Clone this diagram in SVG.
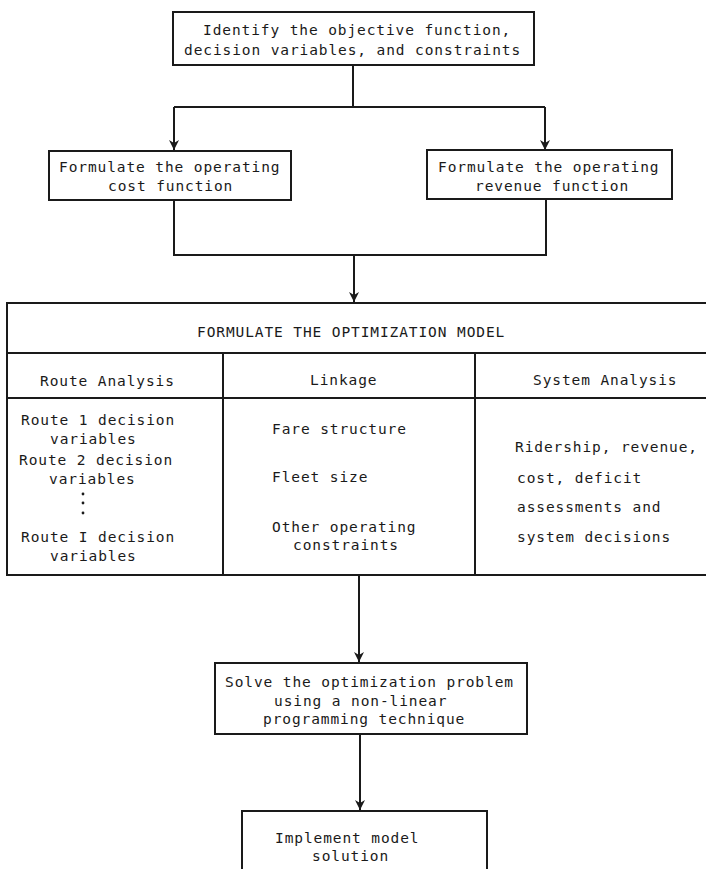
<svg xmlns="http://www.w3.org/2000/svg" width="706" height="869" viewBox="0 0 706 869">
<style>
.box{fill:#fff;stroke:#1a1a1a;stroke-width:2}
.ln{fill:none;stroke:#1a1a1a;stroke-width:2}
text{font-family:"DejaVu Sans Mono","Liberation Mono",monospace;font-size:14.5px;letter-spacing:0.9px;fill:#1a1a1a}
</style>
<defs>
<marker id="arr" markerUnits="userSpaceOnUse" markerWidth="10" markerHeight="10" refX="10" refY="5" orient="auto">
<path d="M0,0 L10,5 L0,10 L3,5 z" fill="#1a1a1a"/>
</marker>
</defs>
<rect width="706" height="869" fill="#fff"/>
<g id="connectors">
<path class="ln" d="M353,65 V107"/>
<path class="ln" d="M174,107 H545"/>
<path class="ln" d="M174,107 V150" marker-end="url(#arr)"/>
<path class="ln" d="M545,107 V150" marker-end="url(#arr)"/>
<path class="ln" d="M174,200 V255 H546 V199"/>
<path class="ln" d="M354,255 V302" marker-end="url(#arr)"/>
<path class="ln" d="M359,575 V662" marker-end="url(#arr)"/>
<path class="ln" d="M360,734 V810" marker-end="url(#arr)"/>
</g>
<g id="identify">
<rect class="box" x="173" y="12" width="361" height="53"/>
<text x="203" y="35">Identify the objective function,</text>
<text x="184" y="55">decision variables, and constraints</text>
</g>
<g id="cost">
<rect class="box" x="49" y="151" width="242" height="49"/>
<text x="59" y="172">Formulate the operating</text>
<text x="108" y="191">cost function</text>
</g>
<g id="revenue">
<rect class="box" x="427" y="150" width="245" height="49"/>
<text x="438" y="172">Formulate the operating</text>
<text x="475" y="191">revenue function</text>
</g>
<g id="model">
<rect class="box" x="7" y="303" width="720" height="272"/>
<path class="ln" d="M7,353 H727 M7,398 H727 M223,353 V575 M475,353 V575"/>
<text x="197" y="337">FORMULATE THE OPTIMIZATION MODEL</text>
<text x="40" y="386">Route Analysis</text>
<text x="310" y="385">Linkage</text>
<text x="533" y="385">System Analysis</text>
<text x="21" y="425">Route 1 decision</text>
<text x="50" y="444">variables</text>
<text x="19" y="465">Route 2 decision</text>
<text x="49" y="484">variables</text>
<circle cx="83" cy="494" r="1.4" fill="#1a1a1a"/>
<circle cx="83" cy="503" r="1.4" fill="#1a1a1a"/>
<circle cx="83" cy="513" r="1.4" fill="#1a1a1a"/>
<text x="21" y="542">Route I decision</text>
<text x="50" y="561">variables</text>
<text x="272" y="434">Fare structure</text>
<text x="272" y="482">Fleet size</text>
<text x="272" y="532">Other operating</text>
<text x="293" y="550">constraints</text>
<text x="515" y="452">Ridership, revenue,</text>
<text x="517" y="483">cost, deficit</text>
<text x="517" y="512">assessments and</text>
<text x="517" y="542">system decisions</text>
</g>
<g id="solve">
<rect class="box" x="215" y="663" width="312" height="71"/>
<text x="225" y="687">Solve the optimization problem</text>
<text x="274" y="706">using a non-linear</text>
<text x="263" y="724">programming technique</text>
</g>
<g id="implement">
<rect class="box" x="242" y="811" width="245" height="70"/>
<text x="275" y="843">Implement model</text>
<text x="312" y="861">solution</text>
</g>
</svg>
